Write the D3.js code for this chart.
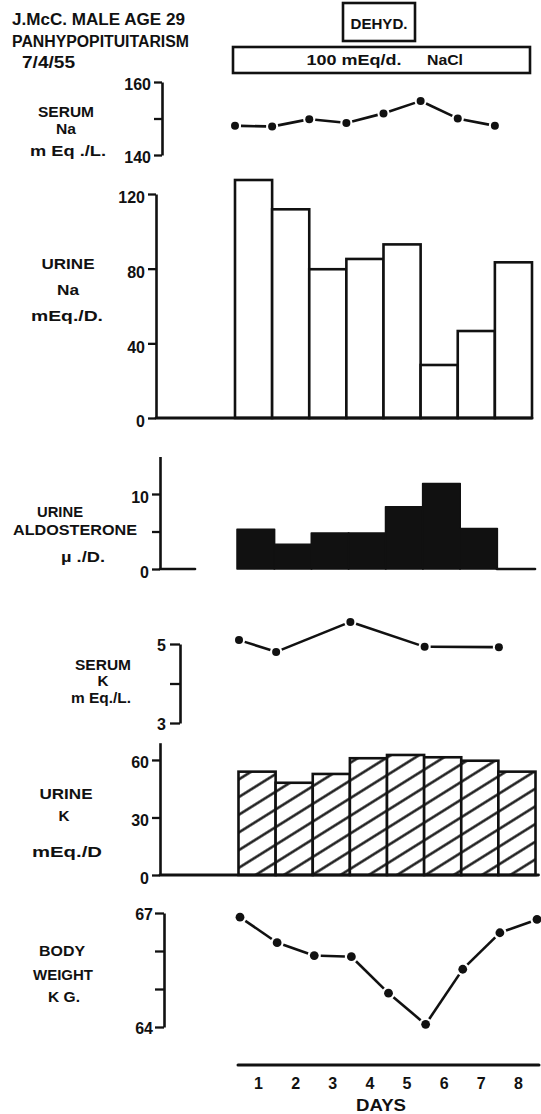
<!DOCTYPE html>
<html><head><meta charset="utf-8">
<script src="https://cdn.jsdelivr.net/npm/d3@7"></script>
<style>
html,body{margin:0;padding:0;background:#fff;}
svg{display:block;}
text{font-family:"Liberation Sans",Arial,Helvetica,sans-serif;font-weight:bold;fill:#111;}
</style></head><body>
<svg id="chart" width="541" height="1114"></svg>
<script>
// ---- data ----
const days = ["1","2","3","4","5","6","7","8"];
// serum Na measured at the start of each day (day boundaries 0..7)
const serumNaAt = [0,1,2,3,4,5,6,7];
const serumNa = [148.0,147.8,149.8,148.8,151.4,154.8,150.0,148.0];
const urineNa = [127.5,111.8,79.7,85.2,93.0,28.4,46.6,83.4];
const aldosterone = [5.3,3.3,4.8,4.8,8.3,11.4,5.4,null];
const serumKAt = [0,1,3,5,7];
const serumK = [5.10,4.80,5.56,4.93,4.92];
const urineK = [53.9,48.1,52.7,60.9,62.6,61.4,59.6,53.9];
const weightAt = [0,1,2,3,4,5,6,7,8];
const bodyWeight = [66.89,66.22,65.88,65.85,64.89,64.07,65.52,66.48,66.83];

const serumNaTicks = [140,150,160], serumNaLabels = [140,160];
const urineNaTicks = [0,40,80,120], urineNaLabels = [0,40,80,120];
const aldoTicks = [0,5,10], aldoLabels = [0,10];
const serumKTicks = [3,4,5], serumKLabels = [3,5];
const urineKTicks = [0,30,60], urineKLabels = [0,30,60];
const weightTicks = [64,65,66,67], weightLabels = [64,67];

const headerLines = ["J.McC. MALE AGE 29","PANHYPOPITUITARISM","7/4/55"];
const dehydLabel = "DEHYD.";
const saltLabel = ["100 mEq/d.","NaCl"];

// ---- drawing ----
const svg = d3.select("#chart");
const INK = "#111";
const SW = 2.6;
const defs = svg.append("defs");
const pat = defs.append("pattern").attr("id","hatch").attr("patternUnits","userSpaceOnUse")
  .attr("width",15).attr("height",15).attr("patternTransform","rotate(-32)");
pat.append("rect").attr("width",15).attr("height",15).attr("fill","#fff");
pat.append("line").attr("x1",0).attr("x2",15).attr("y1",7.5).attr("y2",7.5)
  .attr("stroke",INK).attr("stroke-width",2.4);

const xBase = d3.scaleLinear().domain([0,8]).range([235,532]);
const xs = shift => (v => xBase(v) + shift);

function label(x,y,t,size,len,anchor,weight){
  const e = svg.append("text").attr("x",x).attr("y",y)
    .attr("text-anchor",anchor||"middle").attr("dy","0.36em")
    .style("font-size",size+"px").text(t);
  if(weight) e.style("font-weight",weight);
  if(len) e.attr("textLength",len).attr("lengthAdjust","spacingAndGlyphs");
  return e;
}

function leftAxis(y, axisX, ticks, labels, opts){
  opts = opts||{};
  const g = svg.append("g").attr("transform",`translate(${axisX},0)`);
  g.call(d3.axisLeft(y).tickValues(ticks).tickSize(opts.tick||8).tickSizeOuter(0)
    .tickPadding(opts.pad||3)
    .tickFormat(d => labels.includes(d) ? d : ""));
  g.select(".domain").attr("stroke",INK).attr("stroke-width",SW);
  g.selectAll(".tick line").attr("stroke",INK).attr("stroke-width",2.3);
  g.selectAll(".tick text").attr("fill",INK)
    .style("font-family",'"Liberation Sans",Arial,sans-serif')
    .style("font-weight","bold").style("font-size",(opts.fs||16)+"px")
    .attr("dy",opts.dy||"0.5em");
  return g;
}

function hline(x1,x2,y,w){
  svg.append("line").attr("x1",x1).attr("x2",x2).attr("y1",y).attr("y2",y)
    .attr("stroke",INK).attr("stroke-width",w||SW).attr("stroke-linecap","round");
}

function dotLine(pts, gap, r){
  const g = svg.append("g");
  g.selectAll("line").data(d3.pairs(pts)).join("line")
    .each(function([a,b]){
      const dx=b[0]-a[0], dy=b[1]-a[1], L=Math.hypot(dx,dy), ux=dx/L, uy=dy/L;
      d3.select(this).attr("x1",a[0]+ux*gap).attr("y1",a[1]+uy*gap)
        .attr("x2",b[0]-ux*gap).attr("y2",b[1]-uy*gap);
    })
    .attr("stroke",INK).attr("stroke-width",2.6);
  g.selectAll("circle").data(pts).join("circle")
    .attr("cx",d=>d[0]).attr("cy",d=>d[1]).attr("r",r||4).attr("fill",INK);
}

// header
label(12,19,headerLines[0],16,173,"start");
label(12,41,headerLines[1],16,177,"start");
label(22,62,headerLines[2],16,53,"start");

// treatment boxes
svg.append("rect").attr("x",343).attr("y",3).attr("width",72).attr("height",38)
  .attr("fill","#fff").attr("stroke",INK).attr("stroke-width",SW);
label(379,24,dehydLabel,15,57);
svg.append("rect").attr("x",233).attr("y",47).attr("width",297).attr("height",26)
  .attr("fill","#fff").attr("stroke",INK).attr("stroke-width",SW);
label(354,60,saltLabel[0],15,95,"middle","bold");
label(445,60,saltLabel[1],15,36,"middle","bold");

// ---- Serum Na ----
{
  const y = d3.scaleLinear().domain([140,160]).range([155,82]);
  leftAxis(y,162,serumNaTicks,serumNaLabels,{dy:"0.45em"});
  const x = xs(0);
  dotLine(serumNa.map((v,i)=>[x(serumNaAt[i]), y(v)]), 6);
  label(66,112,"SERUM",15,56); label(66,129,"Na",15,20); label(68,151,"m Eq ./L.",15,76);
}

// ---- Urine Na ----
{
  const y = d3.scaleLinear().domain([0,120]).range([418,194]);
  const x = xs(0);
  svg.append("g").selectAll("rect").data(urineNa).join("rect")
    .attr("x",(d,i)=>x(i)).attr("width",(d,i)=>x(i+1)-x(i))
    .attr("y",d=>y(d)).attr("height",d=>y(0)-y(d))
    .attr("fill","#fff").attr("stroke",INK).attr("stroke-width",SW);
  hline(156,x(8),y(0),2.8);
  leftAxis(y,156,urineNaTicks,urineNaLabels,{dy:"0.55em"});
  label(68,264,"URINE",15,53); label(68,290,"Na",15,22); label(67,316,"mEq./D.",15,72);
}

// ---- Urine aldosterone ----
{
  const y = d3.scaleLinear().domain([0,15]).range([569,456.5]);
  const x = xs(2);
  const data = aldosterone.map((v,i)=>({v,i})).filter(d=>d.v!=null);
  svg.append("g").selectAll("rect").data(data).join("rect")
    .attr("x",d=>x(d.i)).attr("width",d=>x(d.i+1)-x(d.i)+0.5)
    .attr("y",d=>y(d.v)).attr("height",d=>y(0)-y(d.v))
    .attr("fill",INK).attr("stroke",INK).attr("stroke-width",1.5).attr("stroke-linejoin","round");
  const lastI = d3.max(data,d=>d.i);
  hline(160,195,y(0),2.6);
  hline(x(lastI+1),535,y(0),2.6);
  leftAxis(y,160,aldoTicks,aldoLabels,{dy:"0.5em"});
  label(60,512,"URINE",15,46); label(75,530,"ALDOSTERONE",15,124); label(83,557,"\u00b5 ./D.",14,44);
}

// ---- Serum K ----
{
  const y = d3.scaleLinear().domain([3,5]).range([723,644]);
  leftAxis(y,180,serumKTicks,serumKLabels,{tick:10,pad:4,dy:"0.4em"});
  const x = xs(4);
  dotLine(serumK.map((v,i)=>[x(serumKAt[i]), y(v)]), 6);
  label(103,665,"SERUM",14,56); label(103,681,"K",14,11); label(101,698,"m Eq./L.",14,60);
}

// ---- Urine K ----
{
  const y = d3.scaleLinear().domain([0,69]).range([875,742.7]);
  const x = xs(3.5);
  svg.append("g").selectAll("rect").data(urineK).join("rect")
    .attr("x",(d,i)=>x(i)).attr("width",(d,i)=>x(i+1)-x(i))
    .attr("y",d=>y(d)).attr("height",d=>y(0)-y(d))
    .attr("fill","url(#hatch)").attr("stroke",INK).attr("stroke-width",SW);
  hline(160,x(8)+3,y(0),2.8);
  leftAxis(y,160,urineKTicks,urineKLabels,{dy:"0.5em"});
  label(66,794,"URINE",15,53); label(64,816,"K",15,11); label(67,852,"mEq./D",15,70);
}

// ---- Body weight ----
{
  const y = d3.scaleLinear().domain([64,67]).range([1027,913]);
  leftAxis(y,164,weightTicks,weightLabels,{tick:9,pad:2,dy:"0.4em"});
  const x = xs(5);
  dotLine(bodyWeight.map((v,i)=>[x(weightAt[i]), y(v)]), 6.5, 4.4);
  label(62,951,"BODY",15,46); label(63,975,"WEIGHT",15,60); label(64,997,"K G.",15,32);
}

// ---- Days axis ----
{
  const x = xs(4);
  hline(238,539,1065,3);
  svg.append("g").selectAll("text").data(days).join("text")
    .attr("x",(d,i)=>x(i+0.5)+1).attr("y",1083).attr("dy","0.36em")
    .attr("text-anchor","middle").style("font-size","16px").text(d=>d);
  label(381,1105,"DAYS",16,50);
}
</script>
</body></html>
